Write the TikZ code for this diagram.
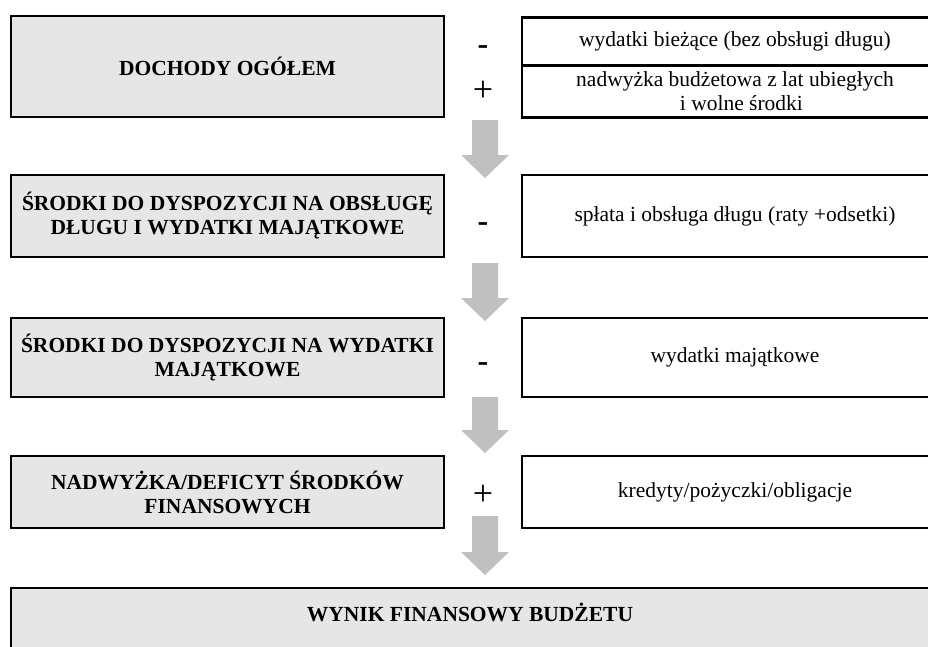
\documentclass[tikz,border=0pt]{standalone}
\usepackage{fontspec}
\setmainfont{Liberation Serif}
\definecolor{boxgray}{HTML}{E6E6E6}
\definecolor{arrowgray}{HTML}{C0C0C0}
\begin{document}
\begin{tikzpicture}[x=1pt,y=-1pt,
  leftbox/.style={draw=black,line width=2.5pt,fill=boxgray,minimum width=433pt,inner sep=0pt,
    align=center,font=\fontsize{21.5}{24}\selectfont\bfseries},
  rightbox/.style={draw=black,line width=2.5pt,fill=white,minimum width=426pt,inner sep=0pt,
    align=center,font=\fontsize{21.5}{24}\selectfont},
  minussign/.style={inner sep=0pt,font=\fontsize{32}{32}\selectfont\bfseries},
  plussign/.style={inner sep=0pt,font=\fontsize{36}{36}\selectfont},
  bigarrow/.pic={\fill[arrowgray] (-13,0) -- (13,0) -- (13,#1) -- (24,#1) -- (0,#1+23) -- (-24,#1) -- (-13,#1) -- cycle;}
]
\clip (0,0) rectangle (928,646);
\fill[white] (0,0) rectangle (928,646);
% row 1
\node[leftbox,minimum height=101pt] (l1) at (227.5,66.5) {DOCHODY OGÓŁEM};
\node[rightbox,minimum height=48pt,anchor=north] (r1a) at (735,16) {wydatki bieżące (bez obsługi długu)};
\node[rightbox,minimum height=52pt,anchor=north] (r1b) at (735,64) {nadwyżka budżetowa z lat ubiegłych\\\hspace*{0.6em}i wolne środki};
\node[minussign] (m1) at (483,50) {-};
\node[plussign] (p1) at (483,91) {+};
% row 2
\node[leftbox,minimum height=82pt] (l2) at (227.5,216) {ŚRODKI DO DYSPOZYCJI NA OBSŁUGĘ\\DŁUGU I WYDATKI MAJĄTKOWE};
\node[rightbox,minimum height=82pt] (r2) at (735,216) {spłata i obsługa długu (raty +odsetki)};
\node[minussign] (m2) at (483,227) {-};
% row 3
\node[leftbox,minimum height=79pt] (l3) at (227.5,357.5) {ŚRODKI DO DYSPOZYCJI NA WYDATKI\\MAJĄTKOWE};
\node[rightbox,minimum height=79pt] (r3) at (735,357.5) {wydatki majątkowe};
\node[minussign] (m3) at (483,367) {-};
% row 4
\node[leftbox,minimum height=72pt] (l4) at (227.5,492) {NADWYŻKA/DEFICYT ŚRODKÓW\\FINANSOWYCH};
\node[rightbox,minimum height=72pt] (r4) at (735,492) {kredyty/pożyczki/obligacje};
\node[plussign] (p4) at (483,495) {+};
% row 5
\draw[line width=2.5pt,fill=boxgray] (11,588) rectangle (950,680);
\node[inner sep=0pt,font=\fontsize{21.5}{24}\selectfont\bfseries] (l5) at (470,612) {WYNIK FINANSOWY BUDŻETU};
% arrows
\pic at (485,120) {bigarrow=35};
\pic at (485,263) {bigarrow=35};
\pic at (485,397) {bigarrow=33};
\pic at (485,516) {bigarrow=36};
\end{tikzpicture}
\end{document}
